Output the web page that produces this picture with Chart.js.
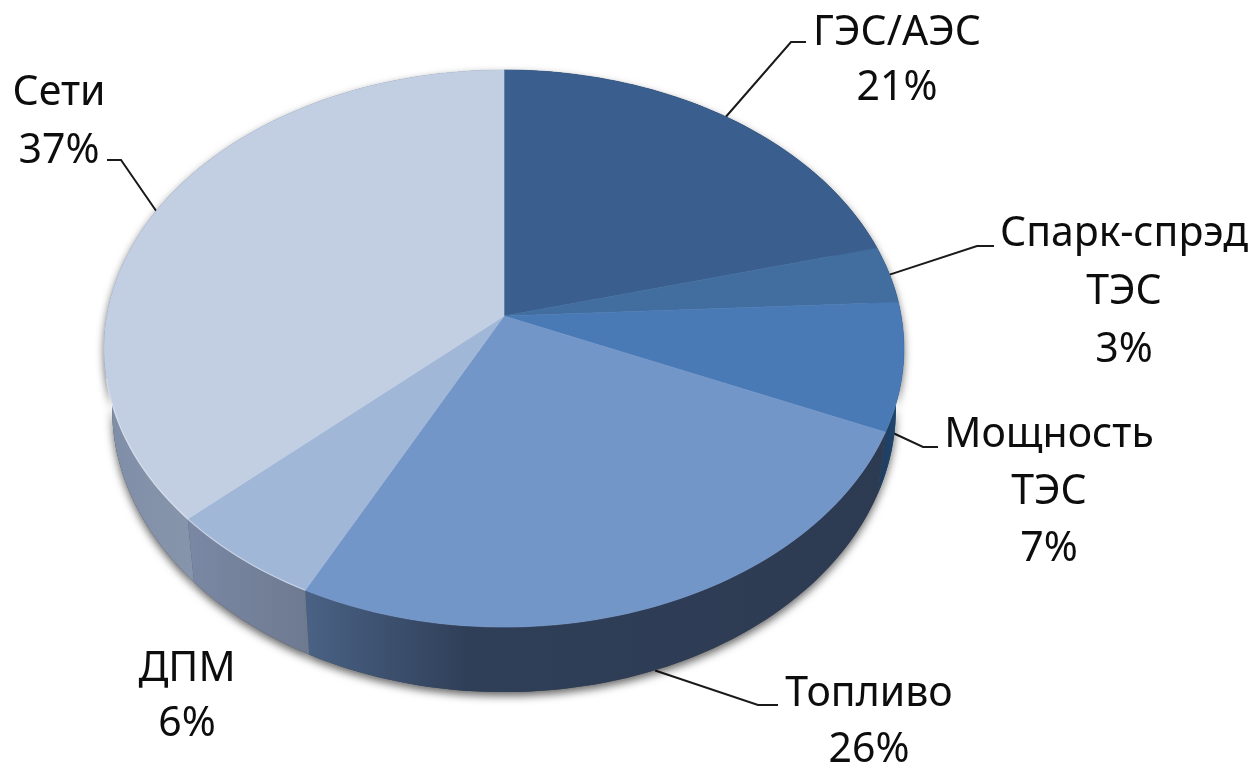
<!DOCTYPE html>
<html>
<head>
<meta charset="utf-8">
<title>Структура</title>
<script src="https://cdn.jsdelivr.net/npm/chart.js@4"></script>
<style>
    html, body { margin: 0; padding: 0; background: #fff; }
    canvas { display: block; }
</style>
</head>
<body>
<canvas id="pieChart" width="1259" height="764"></canvas>
<script>
// Data: labels give whole percents, the slice edges give the decimals
const categories = ['ГЭС/АЭС', 'Спарк-спрэд ТЭС', 'Мощность ТЭС', 'Топливо', 'ДПМ', 'Сети'];
const shares = [20.9, 3.3, 7.4, 25.8, 5.7, 36.9];

const topColors = ['#3a5f8e', '#426d9f', '#4a7ab5', '#7396c9', '#a1b7d8', '#c2cfe3'];
const wallColors = [
    [[0, '#22364f'], [1, '#22364f']],
    [[0, '#1f3f63'], [1, '#1f3f63']],
    [[0, '#1f3f63'], [1, '#1d4a78']],
    [[0, '#4a6285'], [0.28, '#2f3f58'], [1, '#2d3b52']],
    [[0, '#7a88a5'], [1, '#6e7a90']],
    [[0, '#7f8ea7'], [1, '#a2abbc']]
];

// Label placement: centre x, first baseline, leader elbow and end
const labelLayout = [
    { x: 897, y: 45, lineGap: 55, elbow: [791, 42], end: [806, 42] },
    { x: 1124, y: 246, lineGap: 58, elbow: [977, 246], end: [994, 246] },
    { x: 1049, y: 447, lineGap: 57, start: [893, 433], elbow: [923, 447], end: [938, 447] },
    { x: 869, y: 706, lineGap: 56, depth: 64, elbow: [758, 705], end: [778, 705] },
    { x: 187, y: 681, lineGap: 55 },
    { x: 59, y: 105, lineGap: 58, elbow: [121, 160], end: [107, 160] }
];

// The tilted disc: a projective map of the circle, so the apex sits above the ellipse centre
const PERSPECTIVE = -0.1167;
const SCALE_X = 0.993;
const SCALE_Y = 0.687;
const WALL_SHRINK = 0.98;
const LABEL_FONT = '41px "Noto Sans"';

function rimPoint(arc, angle) {
    const t = angle + Math.PI / 2;
    const X = Math.sin(t);
    const Y = -Math.cos(t);
    const d = 1 + PERSPECTIVE * Y;
    return {
        x: arc.x + arc.outerRadius * SCALE_X * X / d,
        y: arc.y + arc.outerRadius * SCALE_Y * Y / d,
        Y: Y
    };
}

function wallDepth(Y) {
    return 59 + 6 * Y;
}

function rimPoints(arc) {
    const pts = [];
    const steps = Math.max(4, Math.ceil((arc.endAngle - arc.startAngle) * 40));
    for (let i = 0; i <= steps; i++) {
        pts.push(rimPoint(arc, arc.startAngle + (arc.endAngle - arc.startAngle) * i / steps));
    }
    return pts;
}

function wallPath(ctx, arc, pts) {
    ctx.beginPath();
    pts.forEach((p, i) => (i ? ctx.lineTo(p.x, p.y) : ctx.moveTo(p.x, p.y)));
    pts.slice().reverse().forEach(p => {
        ctx.lineTo(arc.x + (p.x - arc.x) * WALL_SHRINK, p.y + wallDepth(p.Y));
    });
    ctx.closePath();
}

function drawWall(ctx, arc, stops) {
    const pts = rimPoints(arc);
    const xs = pts.map(p => p.x);
    const grad = ctx.createLinearGradient(Math.min(...xs), 0, Math.max(...xs), 0);
    stops.forEach(s => grad.addColorStop(s[0], s[1]));
    wallPath(ctx, arc, pts);
    ctx.fillStyle = grad;
    ctx.fill();
}

function drawTop(ctx, arc, color) {
    const pts = rimPoints(arc);
    ctx.beginPath();
    ctx.moveTo(arc.x, arc.y);
    pts.forEach(p => ctx.lineTo(p.x, p.y));
    ctx.closePath();
    ctx.fillStyle = color;
    ctx.strokeStyle = color;
    ctx.lineWidth = 0.6;
    ctx.fill();
    ctx.stroke();
}

const tiltedPie = {
    id: 'tiltedPie',
    beforeDatasetDraw(chart) {
        const ctx = chart.ctx;
        const arcs = chart.getDatasetMeta(0).data;
        ctx.save();

        // Leader lines lie under the disc
        ctx.strokeStyle = '#1a1a1a';
        ctx.lineWidth = 2;
        arcs.forEach((arc, i) => {
            const l = labelLayout[i];
            if (!l.elbow) return;
            const rim = rimPoint(arc, (arc.startAngle + arc.endAngle) / 2);
            const start = l.start || [rim.x, rim.y + (l.depth || 0)];
            ctx.beginPath();
            ctx.moveTo(start[0], start[1]);
            ctx.lineTo(l.elbow[0], l.elbow[1]);
            ctx.lineTo(l.end[0], l.end[1]);
            ctx.stroke();
        });

        // Soft shadow under the wall
        ctx.save();
        ctx.shadowColor = 'rgba(0,0,0,0.6)';
        ctx.shadowBlur = 8;
        ctx.shadowOffsetY = 4;
        arcs.forEach(arc => {
            wallPath(ctx, arc, rimPoints(arc));
            ctx.fillStyle = '#444';
            ctx.fill();
        });
        ctx.restore();

        arcs.forEach((arc, i) => drawWall(ctx, arc, wallColors[i]));
        arcs.forEach(arc => drawTop(ctx, arc, arc.options.backgroundColor));

        // Thin light edge along the lower left of the disc
        ctx.strokeStyle = 'rgba(255,255,255,0.45)';
        ctx.lineWidth = 1.2;
        [arcs[4], arcs[5]].forEach(arc => {
            ctx.beginPath();
            rimPoints(arc).forEach(p => {
                if (p.x > 330 || p.y < 375) return;
                ctx.lineTo(p.x, p.y);
            });
            ctx.stroke();
        });

        ctx.restore();
        return false;
    },
    afterDraw(chart) {
        const ctx = chart.ctx;
        ctx.save();
        ctx.font = LABEL_FONT;
        ctx.fillStyle = '#0d0d0d';
        ctx.textAlign = 'center';
        ctx.textBaseline = 'alphabetic';
        categories.forEach((name, i) => {
            const l = labelLayout[i];
            const lines = name.split(' ').concat(Math.round(shares[i]) + '%');
            lines.forEach((line, k) => ctx.fillText(line, l.x, l.y + k * l.lineGap));
        });
        ctx.restore();
    }
};

new Chart(document.getElementById('pieChart'), {
    type: 'pie',
    data: {
        labels: categories,
        datasets: [{
            data: shares,
            backgroundColor: topColors,
            borderWidth: 0,
            radius: 400,
            clip: false
        }]
    },
    options: {
        responsive: false,
        animation: false,
        layout: { padding: { left: 0, top: 0, right: 251, bottom: 132 } },
        plugins: { legend: { display: false }, tooltip: { enabled: false } }
    },
    plugins: [tiltedPie]
});
</script>
</body>
</html>
